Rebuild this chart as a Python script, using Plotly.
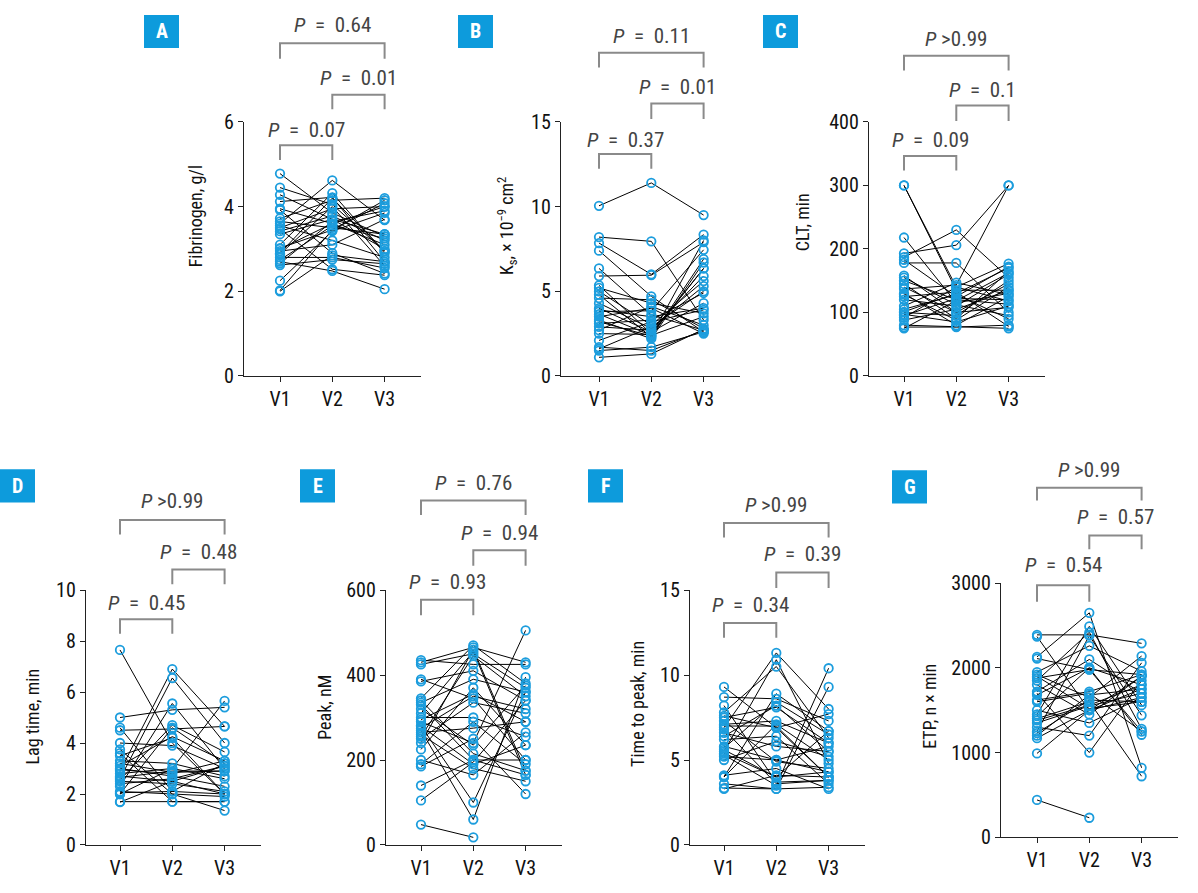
import plotly.graph_objects as go

W, H = 1198, 893
visits = ["V1", "V2", "V3"]

# ---------------- data ----------------
fib_v1 = [4.78, 4.45, 4.28, 4.12, 3.95, 3.92, 3.72, 3.65, 3.55, 3.50, 3.47, 3.42, 3.10, 3.02, 2.95, 2.88, 2.80, 2.74, 2.70, 2.66, 2.62, 2.25, 2.02, 2.00, 3.60, 3.35, 2.90, 3.00]
fib_v2 = [3.85, 4.05, 3.70, 4.22, 3.60, 2.90, 4.15, 3.50, 3.20, 3.95, 2.52, 3.78, 4.32, 3.45, 3.10, 4.00, 2.80, 3.55, 2.48, 3.65, 2.75, 3.42, 3.45, 2.85, 4.62, 3.70, 4.20, 3.60]
fib_v3 = [3.30, 2.95, 3.00, 2.70, 3.10, 2.42, 4.20, 3.35, 2.80, 4.00, 2.38, 3.20, 2.90, 4.08, 3.70, 2.60, 2.55, 3.25, 2.05, 3.90, 2.65, 3.85, 4.15, 2.70, 3.68, 3.35, 2.95, 4.00]

ks_v1 = [10.05, 8.20, 7.85, 7.40, 6.35, 5.90, 5.35, 5.20, 5.00, 4.80, 4.60, 4.30, 4.00, 3.80, 3.65, 3.50, 3.30, 3.10, 2.90, 2.70, 2.50, 2.10, 1.70, 1.60, 1.50, 1.10, 3.20, 3.90]
ks_v2 = [11.40, 7.95, 6.00, 4.70, 3.60, 5.95, 2.50, 4.30, 3.00, 2.30, 4.50, 2.80, 2.60, 3.85, 2.40, 4.00, 2.20, 3.30, 2.70, 4.10, 2.45, 3.20, 1.50, 2.90, 1.70, 1.30, 2.35, 3.50]
ks_v3 = [9.50, 3.30, 8.35, 2.60, 2.70, 7.90, 6.35, 3.70, 5.60, 6.90, 2.80, 5.30, 4.30, 7.45, 3.50, 2.50, 6.70, 4.90, 5.90, 3.00, 6.35, 3.90, 2.70, 5.00, 2.60, 2.75, 8.00, 4.00]

clt_v1 = [300, 300, 218, 193, 187, 183, 178, 158, 150, 145, 137, 130, 125, 120, 105, 100, 97, 92, 88, 80, 77, 75, 140, 110, 128, 101, 155, 95]
clt_v2 = [140, 135, 115, 206, 230, 125, 178, 100, 120, 90, 143, 80, 132, 110, 128, 95, 85, 140, 105, 78, 77, 118, 100, 147, 88, 130, 112, 122]
clt_v3 = [118, 135, 130, 300, 155, 172, 100, 145, 113, 165, 300, 125, 78, 160, 90, 150, 110, 177, 135, 75, 80, 162, 108, 128, 140, 170, 95, 120]

lag_v1 = [7.65, 5.00, 4.60, 4.50, 4.00, 3.75, 3.60, 3.30, 3.20, 3.10, 3.00, 2.90, 2.80, 2.70, 2.60, 2.55, 2.50, 2.40, 2.30, 2.10, 2.00, 2.00, 1.70, 2.65, 3.50, 2.95, 2.05, 1.68]
lag_v2 = [4.00, 5.30, 2.10, 4.55, 3.90, 2.00, 1.70, 3.20, 2.85, 4.25, 2.70, 6.90, 3.00, 2.50, 6.55, 4.70, 2.40, 2.60, 5.55, 2.00, 3.00, 4.60, 1.70, 2.90, 4.20, 2.80, 2.10, 2.50]
lag_v3 = [2.00, 5.40, 3.20, 4.65, 3.00, 1.90, 1.70, 2.70, 2.90, 3.30, 2.30, 4.65, 5.65, 2.00, 4.00, 3.65, 2.10, 3.10, 3.00, 1.35, 2.60, 3.20, 1.70, 2.90, 2.00, 3.30, 2.00, 3.10]

peak_v1 = [435, 430, 425, 390, 385, 345, 340, 335, 330, 310, 300, 290, 280, 275, 270, 265, 260, 255, 250, 225, 200, 190, 185, 140, 105, 48, 280, 320, 240, 295]
peak_v2 = [425, 465, 450, 345, 410, 470, 215, 390, 200, 455, 300, 240, 100, 350, 60, 275, 180, 445, 335, 370, 165, 290, 250, 200, 195, 18, 190, 235, 460, 355]
peak_v3 = [425, 430, 370, 200, 340, 380, 175, 360, 200, 165, 255, 505, 360, 320, 395, 290, 150, 350, 310, 235, 265, 190, 120, 165, 340, None, 235, 375, 175, 290]

ttp_v1 = [9.30, 8.70, 8.20, 7.80, 7.50, 7.30, 7.00, 6.90, 6.60, 6.20, 5.70, 5.60, 5.50, 5.30, 5.00, 4.10, 4.00, 3.60, 3.30, 7.10, 5.80, 6.80, 4.00, 3.35, 5.40, 7.60, 6.40, 5.20]
ttp_v2 = [6.90, 8.60, 3.70, 10.50, 8.10, 4.90, 7.00, 11.30, 5.80, 6.40, 8.40, 4.00, 10.90, 3.50, 6.10, 4.50, 8.90, 3.30, 4.10, 7.30, 5.00, 3.60, 7.10, 3.30, 4.00, 6.90, 8.20, 5.00]
ttp_v3 = [7.70, 7.30, 3.80, 6.30, 6.00, 4.50, 4.00, 8.00, 5.50, 3.60, 6.50, 4.30, 4.80, 10.40, 5.20, 3.30, 6.70, 9.30, 4.00, 6.00, 5.80, 3.80, 5.00, 3.40, 6.70, 4.00, 5.50, 4.30]

etp_v1 = [2390, 2370, 2130, 2110, 1950, 1920, 1900, 1850, 1800, 1720, 1700, 1680, 1620, 1500, 1450, 1400, 1380, 1300, 1250, 1200, 1170, 990, 440, 1350, 1600, 1880, 1430, 1230]
etp_v2 = [2390, 1500, 2650, 1980, 2260, 1650, 1520, 2420, 1450, 2100, 1000, 2000, 1720, 1350, 2490, 1600, 1560, 1200, 2380, 1680, 1500, 1500, 230, 1550, 1700, 1980, 2000, 1620]
etp_v3 = [2290, 1750, 820, 1250, 1960, 2140, 1600, 1280, 1900, 1700, 1850, 1210, 1920, 1650, 1560, 720, 1800, 2060, 1440, 1750, 1900, 1650, None, 1700, 1250, 1920, 1800, 1600]

# P values per panel: (V1 vs V3, V2 vs V3, V1 vs V2)
p_fib = ["= 0.64", "= 0.01", "= 0.07"]
p_ks = ["= 0.11", "= 0.01", "= 0.37"]
p_clt = [">0.99", "= 0.1", "= 0.09"]
p_lag = [">0.99", "= 0.48", "= 0.45"]
p_peak = ["= 0.76", "= 0.94", "= 0.93"]
p_ttp = [">0.99", "= 0.39", "= 0.34"]
p_etp = [">0.99", "= 0.57", "= 0.54"]

# ---------------- layout configuration (pixels) ----------------
panels = [
    dict(letter="A", data=(fib_v1, fib_v2, fib_v3), p=p_fib, ymax=6, dtick=2,
         title="Fibrinogen, g/l", axis=244, v1=280, ybot=374, ytop=113, tx=195, ty=210,
         br=[(32, 48, 13), (85, 100, 68), (137, 152, 121)], box=(144, 3)),
    dict(letter="B", data=(ks_v1, ks_v2, ks_v3), p=p_ks, ymax=15, dtick=5,
         title="K<sub>s</sub>, × 10<sup>−9</sup> cm<sup>2</sup>", axis=561, v1=599, ybot=374, ytop=113, tx=507, ty=220,
         br=[(42, 57, 25), (94, 110, 77), (146, 161, 132)], box=(458, 3)),
    dict(letter="C", data=(clt_v1, clt_v2, clt_v3), p=p_clt, ymax=400, dtick=100,
         title="CLT, min", axis=869, v1=904, ybot=374, ytop=113, tx=802, ty=216,
         br=[(45, 60, 28), (96, 112, 80), (148, 163, 132)], box=(763, 3)),
    dict(letter="D", data=(lag_v1, lag_v2, lag_v3), p=p_lag, ymax=10, dtick=2,
         title="Lag time, min", axis=86, v1=120, ybot=856, ytop=594, tx=33, ty=724,
         br=[(522, 537, 502), (573, 588, 555), (624, 639, 607)], box=(0, 470)),
    dict(letter="E", data=(peak_v1, peak_v2, peak_v3), p=p_peak, ymax=600, dtick=200,
         title="Peak, nM", axis=386, v1=421, ybot=856, ytop=594, tx=325, ty=715,
         br=[(502, 517, 484), (553, 569, 535), (604, 620, 586)], box=(300, 470)),
    dict(letter="F", data=(ttp_v1, ttp_v2, ttp_v3), p=p_ttp, ymax=15, dtick=5,
         title="Time to peak, min", axis=690, v1=724, ybot=856, ytop=594, tx=638, ty=711,
         br=[(525, 540, 507), (576, 592, 557), (628, 643, 609)], box=(588, 470)),
    dict(letter="G", data=(etp_v1, etp_v2, etp_v3), p=p_etp, ymax=3000, dtick=1000,
         title="ETP, n × min", axis=1001, v1=1037, ybot=848, ytop=587, tx=930, ty=714,
         br=[(489, 502, 471), (538, 552, 519), (589, 606, 568)], box=(892, 471)),
]

SP = 52.3  # px per visit step
FONT = "Liberation Sans Narrow, Roboto Condensed, Arial Narrow, Roboto, sans-serif"
BLUE = "#1c9ddd"
BOXBLUE = "#0d9bdc"
GREY = "#8a8a8a"
PTXT = "#444444"

def px(v):
    return v / W

def py(v):
    return 1 - v / H

fig = go.Figure()
shapes, annots = [], []
layout = {}

for i, pn in enumerate(panels):
    n = i + 1
    xa = "x" if n == 1 else f"x{n}"
    ya = "y" if n == 1 else f"y{n}"
    xkey = "xaxis" if n == 1 else f"xaxis{n}"
    ykey = "yaxis" if n == 1 else f"yaxis{n}"
    v1, v2, v3 = pn["data"]
    lx, ly = [], []
    for a, b, c in zip(v1, v2, v3):
        lx += [1, 2, 3, None]
        ly += [a, b, c, None]
    fig.add_trace(go.Scatter(x=lx, y=ly, xaxis=xa, yaxis=ya, mode="lines",
                             line=dict(color="black", width=1), connectgaps=False,
                             hoverinfo="skip", showlegend=False))
    mx, my = [], []
    for k, vals in enumerate((v1, v2, v3)):
        for val in vals:
            if val is not None:
                mx.append(k + 1)
                my.append(val)
    fig.add_trace(go.Scatter(x=mx, y=my, xaxis=xa, yaxis=ya, mode="markers",
                             marker=dict(symbol="circle-open", size=8.5, color=BLUE,
                                         line=dict(width=1.8, color=BLUE)),
                             showlegend=False))

    left = pn["axis"]
    right = pn["v1"] + 2 * SP + 36
    x0 = 1 - (pn["v1"] - left) / SP
    x1 = 3 + (right - pn["v1"] - 2 * SP) / SP
    layout[xkey] = dict(domain=[px(left), px(right)], range=[x0, x1], anchor=ya,
                        tickmode="array", tickvals=[1, 2, 3], ticktext=visits,
                        ticks="outside", ticklen=5, tickwidth=1.3, tickcolor="#222",
                        showline=True, linecolor="#222", linewidth=1.3,
                        showgrid=False, zeroline=False,
                        tickfont=dict(family=FONT, size=20, color="#111"))
    layout[ykey] = dict(domain=[py(pn["ybot"]), py(pn["ytop"])], range=[0, pn["ymax"]],
                        anchor=xa, dtick=pn["dtick"], tick0=0,
                        ticks="outside", ticklen=5, tickwidth=1.3, tickcolor="#222",
                        showline=True, linecolor="#222", linewidth=1.3,
                        showgrid=False, zeroline=False,
                        tickfont=dict(family=FONT, size=20, color="#111"))
    annots.append(dict(text=pn["title"], x=px(pn["tx"]), y=py(pn["ty"]), xref="paper", yref="paper",
                       textangle=-90, showarrow=False, xanchor="center", yanchor="middle",
                       font=dict(family=FONT, size=18, color="#111")))
    pairs = [(1, 3), (2, 3), (1, 2)]
    for (a, b), (yl, yleg, yt), ptxt in zip(pairs, pn["br"], pn["p"]):
        shapes.append(dict(type="path", xref=xa, yref="paper",
                           path=f"M {a},{py(yleg)} L {a},{py(yl)} L {b},{py(yl)} L {b},{py(yleg)}",
                           line=dict(color=GREY, width=2)))
        shown = ptxt.replace("= ", " =  ")
        annots.append(dict(text=f"<i>P</i> {shown}", x=(a + b) / 2, y=py(yt), xref=xa, yref="paper",
                           showarrow=False, xanchor="center", yanchor="middle",
                           font=dict(family=FONT, size=21, color=PTXT)))
    bx, by = pn["box"]
    shapes.append(dict(type="rect", xref="paper", yref="paper",
                       x0=px(bx), x1=px(bx + 35), y0=py(by + 34), y1=py(by),
                       fillcolor=BOXBLUE, line=dict(width=0)))
    annots.append(dict(text=f"<b>{pn['letter']}</b>", x=px(bx + 17.5), y=py(by + 17), xref="paper", yref="paper",
                       showarrow=False, xanchor="center", yanchor="middle",
                       font=dict(family=FONT, size=20, color="white")))

fig.update_layout(width=W, height=H, margin=dict(l=0, r=0, t=0, b=0),
                  paper_bgcolor="white", plot_bgcolor="white",
                  shapes=shapes, annotations=annots, showlegend=False, **layout)

fig.write_html("out.html")
